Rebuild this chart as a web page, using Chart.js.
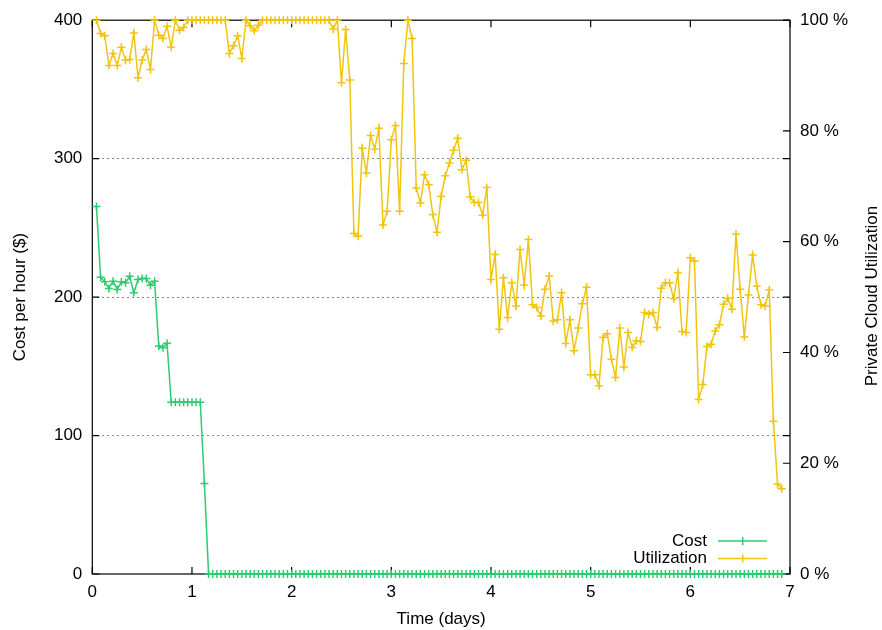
<!DOCTYPE html>
<html>
<head>
<meta charset="utf-8">
<title>Cost and utilization</title>
<script src="https://cdn.jsdelivr.net/npm/chart.js@4.4.0/dist/chart.umd.min.js"></script>
<style>
  html, body { margin: 0; padding: 0; background: #fff; overflow: hidden; }
  canvas { display: block; }
</style>
</head>
<body>
<canvas id="costChart" width="882" height="630"></canvas>
<script>
// hourly samples, first one at hour 1
const firstHour = 1;

// cost per hour ($)
const costValues = [
  265.5, 214.4, 211.0, 206.3, 211.5, 205.5, 211.0, 210.3, 215.1, 203.1,
  212.7, 213.5, 213.5, 208.6, 211.5, 164.7, 163.5, 166.7, 124, 124,
  124, 124, 124, 124, 124, 124, 65.3,
  0, 0, 0, 0, 0, 0, 0, 0, 0, 0, 0, 0, 0, 0, 0, 0, 0, 0, 0, 0,
  0, 0, 0, 0, 0, 0, 0, 0, 0, 0, 0, 0, 0, 0, 0, 0, 0, 0, 0, 0,
  0, 0, 0, 0, 0, 0, 0, 0, 0, 0, 0, 0, 0, 0, 0, 0, 0, 0, 0, 0,
  0, 0, 0, 0, 0, 0, 0, 0, 0, 0, 0, 0, 0, 0, 0, 0, 0, 0, 0, 0,
  0, 0, 0, 0, 0, 0, 0, 0, 0, 0, 0, 0, 0, 0, 0, 0, 0, 0, 0, 0,
  0, 0, 0, 0, 0, 0, 0, 0, 0, 0, 0, 0, 0, 0, 0, 0, 0, 0, 0, 0,
  0, 0, 0, 0, 0, 0, 0, 0, 0, 0, 0, 0, 0, 0, 0, 0, 0, 0, 0
];

// private cloud utilization (%)
const utilValues = [
  100, 97.6, 97.2, 91.8, 94.0, 91.8, 95.1, 92.8, 92.9, 97.7,
  89.6, 92.8, 94.7, 91.1, 100, 97.3, 96.7, 98.9, 95.1, 100,
  98.2, 98.7, 100, 100, 100, 100, 100, 100, 100, 100,
  100, 100, 94.0, 95.4, 97.2, 93.1, 100, 99.0, 98.1, 99.1,
  100, 100, 100, 100, 100, 100, 100, 100, 100, 100,
  100, 100, 100, 100, 100, 100, 100, 98.4, 100, 88.7,
  98.3, 89.2, 61.5, 61.0, 76.9, 72.4, 79.2, 76.7, 80.5, 63.0,
  65.5, 78.4, 81.0, 65.5, 92.2, 100, 96.7, 69.7, 67.0, 72.1,
  70.3, 64.9, 61.7, 68.2, 71.9, 74.2, 76.5, 78.7, 73.0, 74.7,
  68.1, 67.1, 67.1, 64.8, 69.8, 53.2, 57.7, 44.2, 53.5, 46.3,
  52.6, 48.4, 58.6, 52.2, 60.4, 48.6, 48.1, 46.6, 51.4, 53.8,
  45.7, 45.9, 50.8, 41.6, 45.9, 40.3, 44.4, 48.8, 51.8, 36.0,
  36.0, 34.0, 42.7, 43.4, 38.8, 35.5, 44.4, 37.4, 43.6, 40.9,
  42.1, 42.0, 47.2, 46.9, 47.2, 44.5, 51.6, 52.6, 52.6, 49.7,
  54.4, 43.8, 43.6, 57.1, 56.5, 31.5, 34.2, 41.1, 41.5, 43.9,
  45.0, 48.7, 49.8, 47.8, 61.4, 51.4, 42.8, 50.4, 57.6, 52.0,
  48.6, 48.4, 51.3, 27.6, 16.2, 15.4
];

const seriesLabels = ['Cost', 'Utilization'];
const seriesColors = ['#2ecc71', '#f1c40f'];

const FONT = { family: "'Liberation Sans', Arial, sans-serif", size: 17 };

// hour index -> days
const toPoints = vals => vals.map((v, i) => ({ x: (firstHour + i) / 24, y: v }));

// gnuplot-ish frame: box border, inward ticks, y2 title and key
const framePlugin = {
  id: 'frame',
  beforeDatasetsDraw(chart) {
    const { ctx, chartArea: a, scales } = chart;
    const tl = 7;
    ctx.save();
    ctx.strokeStyle = '#000';
    ctx.lineWidth = 1.2;
    ctx.beginPath();
    scales.x.ticks.forEach(t => {
      const px = scales.x.getPixelForValue(t.value);
      ctx.moveTo(px, a.bottom); ctx.lineTo(px, a.bottom - tl);
      ctx.moveTo(px, a.top); ctx.lineTo(px, a.top + tl);
    });
    scales.y.ticks.forEach(t => {
      const py = scales.y.getPixelForValue(t.value);
      ctx.moveTo(a.left, py); ctx.lineTo(a.left + tl, py);
      ctx.moveTo(a.right, py); ctx.lineTo(a.right - tl, py);
    });
    scales.y2.ticks.forEach(t => {
      const py = scales.y2.getPixelForValue(t.value);
      ctx.moveTo(a.right, py); ctx.lineTo(a.right - tl, py);
    });
    ctx.stroke();
    ctx.strokeRect(a.left, a.top, a.right - a.left, a.bottom - a.top);
    ctx.restore();
  },
  afterDraw(chart) {
    const { ctx } = chart;
    ctx.save();
    ctx.font = FONT.size + 'px ' + FONT.family;
    ctx.fillStyle = '#000';

    // right axis title, reading upwards
    ctx.translate(872, 296);
    ctx.rotate(-Math.PI / 2);
    ctx.textAlign = 'center';
    ctx.textBaseline = 'middle';
    ctx.fillText('Private Cloud Utilization', 0, 0);
    ctx.setTransform(1, 0, 0, 1, 0, 0);

    // key in the lower right corner
    chart.data.datasets.forEach((ds, i) => {
      const y = 541 + i * 17.6;
      ctx.fillStyle = '#000';
      ctx.textAlign = 'right';
      ctx.fillText(ds.label, 707, y);
      ctx.strokeStyle = ds.borderColor;
      ctx.lineWidth = 1.5;
      ctx.beginPath();
      ctx.moveTo(718, y); ctx.lineTo(767, y);
      ctx.moveTo(742.7, y - 4); ctx.lineTo(742.7, y + 4);
      ctx.moveTo(738.7, y); ctx.lineTo(746.7, y);
      ctx.stroke();
    });
    ctx.restore();
  }
};

const ctx = document.getElementById('costChart').getContext('2d');

new Chart(ctx, {
  type: 'line',
  data: {
    datasets: [
      {
        label: seriesLabels[0],
        data: toPoints(costValues),
        yAxisID: 'y',
        borderColor: seriesColors[0],
        backgroundColor: seriesColors[0],
        pointBorderColor: seriesColors[0]
      },
      {
        label: seriesLabels[1],
        data: toPoints(utilValues),
        yAxisID: 'y2',
        borderColor: seriesColors[1],
        backgroundColor: seriesColors[1],
        pointBorderColor: seriesColors[1]
      }
    ]
  },
  options: {
    responsive: false,
    animation: false,
    clip: false,
    layout: { padding: { top: 18.5, left: 0, right: 0, bottom: 0 } },
    elements: {
      line: { borderWidth: 1.5, tension: 0, fill: false },
      point: { pointStyle: 'cross', radius: 4, borderWidth: 1.5, hoverRadius: 4 }
    },
    plugins: {
      legend: { display: false },
      tooltip: { enabled: false }
    },
    scales: {
      x: {
        type: 'linear',
        min: 0,
        max: 7,
        ticks: { stepSize: 1, padding: 8, color: '#000', font: FONT, maxRotation: 0 },
        grid: { display: false, drawTicks: false },
        border: { display: false },
        title: { display: true, text: 'Time (days)', color: '#000', font: FONT, padding: { top: 0, bottom: 0.8 } },
        afterFit: s => { s.height = 56; }
      },
      y: {
        position: 'left',
        min: 0,
        max: 400,
        ticks: { stepSize: 100, padding: 10, color: '#000', font: FONT },
        grid: {
          drawTicks: false,
          lineWidth: 1,
          color: c => (c.tick.value === 0 || c.tick.value === 400) ? 'rgba(0,0,0,0)' : '#888'
        },
        border: { display: false, dash: [2, 3] },
        title: { display: true, text: 'Cost per hour ($)', color: '#000', font: FONT, padding: { top: 9.8, bottom: 0 } },
        afterFit: s => { s.width = 92.3; }
      },
      y2: {
        position: 'right',
        min: 0,
        max: 100,
        ticks: { stepSize: 20, padding: 10, color: '#000', font: FONT, callback: v => v + ' %' },
        grid: { display: false, drawTicks: false },
        border: { display: false },
        afterFit: s => { s.width = 92; }
      }
    }
  },
  plugins: [framePlugin]
});
</script>
</body>
</html>
